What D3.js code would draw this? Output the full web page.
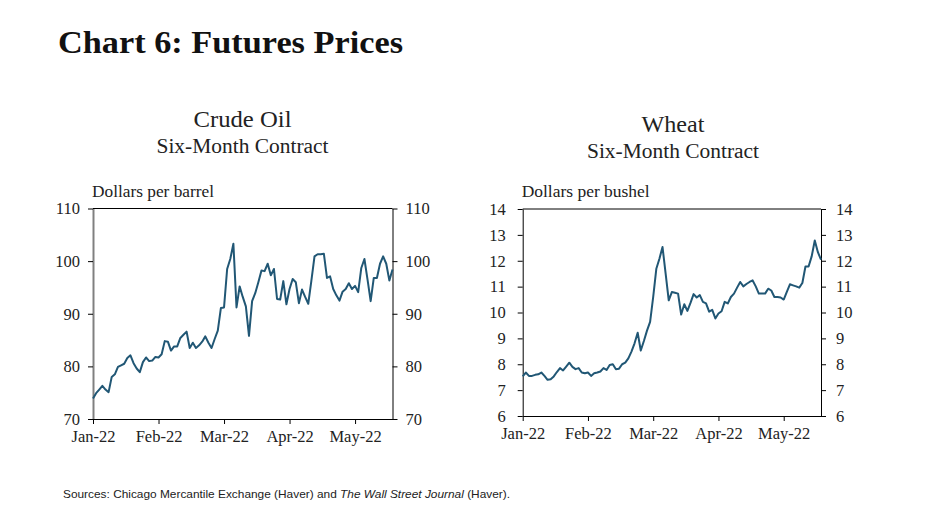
<!DOCTYPE html>
<html>
<head>
<meta charset="utf-8">
<script src="https://cdn.jsdelivr.net/npm/d3@7"></script>
<style>
  html, body { margin: 0; padding: 0; background: #fff; }
  svg { display: block; }
</style>
</head>
<body>
<svg id="chart" width="925" height="520"></svg>
<script>
// ---------------- data ----------------
const monthLabels = ["Jan-22", "Feb-22", "Mar-22", "Apr-22", "May-22"];
const monthTickIndex = [0, 21, 42, 63, 84];   // trading-day index of each month label
const lastIndex = 96;

const crudeTicks = [70, 80, 90, 100, 110];
const wheatTicks = [6, 7, 8, 9, 10, 11, 12, 13, 14];

// Crude oil six-month futures, dollars per barrel (one value per trading day)
const crudeOil = [
  73.9, 74.9, 75.6, 76.3, 75.6, 75.1, 78.0, 78.5, 79.9, 80.2,
  80.5, 81.6, 82.1, 80.6, 79.6, 78.9, 80.8, 81.7, 81.0, 81.1,
  81.8, 81.7, 82.3, 84.8, 84.7, 83.0, 83.8, 83.8, 85.4, 86.0,
  86.6, 83.5, 84.5, 83.5, 84.0, 84.7, 85.7, 84.5, 83.5, 85.2,
  86.8, 91.1, 91.2, 98.5, 100.4, 103.3,
  91.2, 95.2, 93.2, 91.4, 85.8,
  92.4, 93.9, 96.0, 98.2, 98.1, 99.5, 97.3, 98.5, 92.8, 92.7,
  96.2, 91.8, 94.7, 96.6, 96.0, 92.0, 94.6, 93.2, 91.9, 96.3,
  100.9, 101.3, 101.3, 101.4, 96.8, 97.1, 94.7, 93.5, 92.5, 94.2,
  94.7, 95.8, 94.7, 95.3, 94.1, 98.7, 100.4, 96.5, 92.4, 96.8,
  96.8, 99.5, 100.9, 99.5, 96.3, 98.4
];

// Wheat six-month futures, dollars per bushel
const wheat = [
  7.53, 7.68, 7.55, 7.55, 7.59, 7.61, 7.68, 7.55, 7.40, 7.42,
  7.53, 7.70, 7.85, 7.76, 7.91, 8.06, 7.90, 7.81, 7.85, 7.68,
  7.65, 7.68, 7.55, 7.65, 7.68, 7.72, 7.85, 7.78, 7.97, 8.00,
  7.81, 7.83, 8.00, 8.06, 8.23, 8.49, 8.81, 9.22, 8.53, 8.90,
  9.30, 9.64, 10.60, 11.69, 12.08, 12.53, 11.50, 10.47, 10.79, 10.76,
  10.73, 9.92, 10.32, 10.06, 10.37, 10.71, 10.58, 10.67, 10.41, 10.35,
  10.03, 10.10, 9.77, 9.96, 10.05, 10.41, 10.35, 10.60, 10.73, 10.96,
  11.18, 11.01, 11.10, 11.18, 11.24, 11.01, 10.73, 10.73, 10.73, 10.92,
  10.85, 10.60, 10.60, 10.58, 10.50, 10.80, 11.09, 11.05, 11.01, 10.96,
  11.14, 11.78, 11.78, 12.17, 12.78, 12.33, 12.04
];

// ---------------- drawing ----------------
const svg = d3.select("#chart");
const SERIF = "'Liberation Serif', 'Times New Roman', serif";
const LINE_COLOR = "#215775";

svg.append("text")
  .attr("x", 58).attr("y", 53)
  .attr("font-family", SERIF).attr("font-weight", "bold")
  .attr("font-size", 31).attr("fill", "#111")
  .attr("textLength", 345).attr("lengthAdjust", "spacingAndGlyphs")
  .text("Chart 6: Futures Prices");

function panel(cfg) {
  const g = svg.append("g");
  const x = d3.scaleLinear().domain([0, lastIndex]).range([cfg.x0, cfg.x1]);
  const y = d3.scaleLinear().domain([cfg.ticks[0], cfg.ticks[cfg.ticks.length - 1]]).range([cfg.y0, cfg.y1]);

  // titles
  g.append("text").attr("x", cfg.cx).attr("y", cfg.titleY)
    .attr("text-anchor", "middle").attr("font-family", SERIF)
    .attr("font-size", 24).attr("fill", "#222")
    .attr("textLength", cfg.titleLen).attr("lengthAdjust", "spacingAndGlyphs")
    .text(cfg.title);
  g.append("text").attr("x", cfg.cx).attr("y", cfg.titleY + 26)
    .attr("text-anchor", "middle").attr("font-family", SERIF)
    .attr("font-size", 20).attr("fill", "#222")
    .attr("textLength", 172).attr("lengthAdjust", "spacingAndGlyphs")
    .text("Six-Month Contract");
  g.append("text").attr("x", cfg.x0 - 1).attr("y", cfg.unitY)
    .attr("font-family", SERIF).attr("font-size", 16).attr("fill", "#222")
    .attr("textLength", cfg.unitLen).attr("lengthAdjust", "spacingAndGlyphs")
    .text(cfg.unit);

  // frame top
  g.append("line")
    .attr("x1", x.range()[0]).attr("x2", x.range()[1])
    .attr("y1", y.range()[1]).attr("y2", y.range()[1])
    .attr("stroke", "#000").attr("stroke-width", 1);

  const styleAxis = (sel) => {
    sel.selectAll("text").attr("font-family", SERIF).attr("font-size", 16.5).attr("fill", "#222");
    sel.selectAll("line").attr("stroke", "#000");
    sel.select(".domain").attr("stroke", "#000");
  };

  // right axis
  g.append("g").attr("transform", `translate(${cfg.x1},0)`)
    .call(d3.axisRight(y).tickValues(cfg.ticks).tickSize(5).tickPadding(cfg.padR).tickSizeOuter(0))
    .call(styleAxis);

  // left axis
  const la = g.append("g").attr("transform", `translate(${cfg.x0},0)`)
    .call(d3.axisLeft(y).tickValues(cfg.ticks).tickSize(5).tickPadding(cfg.padL).tickSizeOuter(0))
    .call(styleAxis);
  la.select(".domain").attr("stroke", cfg.leftColor).attr("stroke-width", cfg.leftWidth);

  // bottom axis
  g.append("g").attr("transform", `translate(0,${cfg.y0})`)
    .call(d3.axisBottom(x).tickValues(monthTickIndex)
      .tickFormat((d, i) => monthLabels[i]).tickSize(5).tickPadding(6).tickSizeOuter(0))
    .call(styleAxis);

  // line
  const line = d3.line().x((d, i) => x(i)).y(d => y(d));
  g.append("path").datum(cfg.data)
    .attr("fill", "none").attr("stroke", LINE_COLOR)
    .attr("stroke-width", 2).attr("stroke-linejoin", "round")
    .attr("d", line);
}

panel({
  data: crudeOil, ticks: crudeTicks,
  x0: 93, x1: 392.5, y0: 419, y1: 208.5,
  cx: 242.5, titleY: 127, titleLen: 98, title: "Crude Oil",
  unit: "Dollars per barrel", unitY: 197, unitLen: 122,
  padL: 8, padR: 8, leftColor: "#808080", leftWidth: 2
});

panel({
  data: wheat, ticks: wheatTicks,
  x0: 522.7, x1: 821, y0: 416, y1: 209,
  cx: 673, titleY: 131.5, titleLen: 63, title: "Wheat",
  unit: "Dollars per bushel", unitY: 197, unitLen: 128,
  padL: 12, padR: 10, leftColor: "#000", leftWidth: 1
});

// source note
const src = svg.append("text")
  .attr("x", 63).attr("y", 498)
  .attr("font-family", "'Liberation Sans', Arial, sans-serif")
  .attr("font-size", 11.5).attr("fill", "#222")
  .attr("textLength", 447).attr("lengthAdjust", "spacingAndGlyphs");
src.append("tspan").text("Sources: Chicago Mercantile Exchange (Haver) and ");
src.append("tspan").attr("font-style", "italic").text("The Wall Street Journal");
src.append("tspan").text(" (Haver).");
</script>
</body>
</html>
